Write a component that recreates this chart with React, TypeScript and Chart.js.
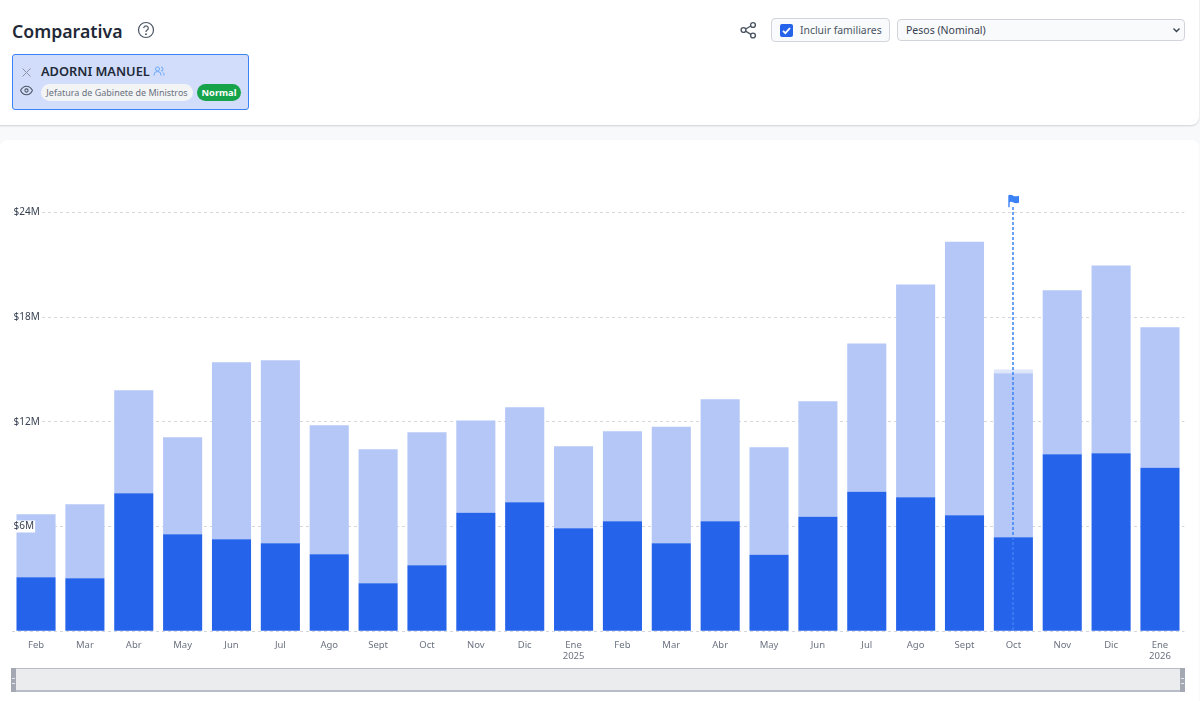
import { useEffect, useRef } from "react";
import { Chart, registerables } from "chart.js";

Chart.register(...registerables);

const months = ["Feb", "Mar", "Abr", "May", "Jun", "Jul", "Ago", "Sept", "Oct", "Nov", "Dic", ["Ene", "2025"], "Feb", "Mar", "Abr", "May", "Jun", "Jul", "Ago", "Sept", "Oct", "Nov", "Dic", ["Ene", "2026"]];
// millones de pesos
const titular = [3.09, 3.04, 7.9, 5.56, 5.27, 5.04, 4.41, 2.75, 3.78, 6.79, 7.39, 5.9, 6.3, 5.04, 6.3, 4.38, 6.56, 7.99, 7.67, 6.64, 5.38, 10.14, 10.2, 9.36];
const familiares = [3.61, 4.23, 5.9, 5.55, 10.14, 10.48, 7.39, 7.67, 7.62, 5.29, 5.44, 4.7, 5.16, 6.67, 6.99, 6.16, 6.61, 8.5, 12.2, 15.67, 9.4, 9.39, 10.76, 8.05];
const otros = [0, 0, 0, 0, 0, 0, 0, 0, 0, 0, 0, 0, 0, 0, 0, 0, 0, 0, 0, 0, 0.22, 0, 0, 0];
const yTicks = [0, 6, 12, 18, 24];
const flagIndex = 20;

const flagPlugin = {
  id: "flagMark",
  afterDatasetsDraw(chart: any) {
    const { ctx, scales } = chart;
    const x = Math.round(scales.x.getPixelForValue(flagIndex));
    ctx.save();
    ctx.strokeStyle = "#3b82f6";
    ctx.lineWidth = 1.5;
    ctx.setLineDash([3, 2]);
    ctx.beginPath();
    ctx.moveTo(x, scales.y.getPixelForValue(24.3));
    ctx.lineTo(x, scales.y.bottom);
    ctx.stroke();
    // banderita
    const top = scales.y.getPixelForValue(24) - 17;
    ctx.setLineDash([]);
    ctx.lineWidth = 1.4;
    ctx.beginPath();
    ctx.moveTo(x - 4, top);
    ctx.lineTo(x - 4, top + 12);
    ctx.stroke();
    ctx.fillStyle = "#3b82f6";
    ctx.beginPath();
    ctx.moveTo(x - 4, top - 0.5);
    ctx.quadraticCurveTo(x, top - 0.5, x, top + 0.5);
    ctx.quadraticCurveTo(x + 2, top + 1.5, x + 6, top + 0.5);
    ctx.lineTo(x + 6, top + 7.5);
    ctx.quadraticCurveTo(x + 2, top + 8.5, x, top + 7);
    ctx.quadraticCurveTo(x - 2, top + 6, x - 4, top + 7);
    ctx.closePath();
    ctx.fill();
    ctx.restore();
  },
};

function BarChart() {
  const canvasRef = useRef<HTMLCanvasElement>(null);

  useEffect(() => {
    if (!canvasRef.current) return;
    const chart = new Chart(canvasRef.current, {
      type: "bar",
      data: {
        labels: months as any,
        datasets: [
          { label: "Titular", data: titular, backgroundColor: "#2563eb", stack: "a" },
          { label: "Familiares", data: familiares, backgroundColor: "#b4c7f7", stack: "a" },
          { label: "Otros", data: otros, backgroundColor: "#dde6fb", stack: "a" },
        ],
      },
      options: {
        responsive: false,
        animation: false,
        layout: { padding: { left: 11.6, right: 15.6, top: 20, bottom: 0 } },
        plugins: { legend: { display: false }, tooltip: { enabled: false } },
        datasets: { bar: { categoryPercentage: 0.8, barPercentage: 1 } },
        scales: {
          x: {
            stacked: true,
            grid: { display: false },
            border: { display: false },
            ticks: {
              color: "#6b7280",
              font: { family: "Noto Sans", size: 9.5 },
              maxRotation: 0,
              autoSkip: false,
              padding: 0,
            },
          },
          y: {
            stacked: true,
            min: 0,
            max: 27,
            afterBuildTicks(axis: any) {
              axis.ticks = yTicks.map((value) => ({ value }));
            },
            afterFit(axis: any) {
              axis.width = 0;
            },
            grid: { color: "#d4d6da", drawTicks: false },
            border: { display: false, dash: [3, 3] },
            ticks: {
              mirror: true,
              z: 1,
              padding: 2,
              color: "#374151",
              font: { family: "Noto Sans", size: 10 },
              showLabelBackdrop: (c: any) => c.tick.value !== 0,
              backdropColor: "#ffffff",
              backdropPadding: { left: 1, right: 1, top: 0, bottom: 0 },
              callback: (v: any) => (v === 0 ? "" : "$" + v + "M"),
            },
          },
        },
      } as any,
      plugins: [flagPlugin],
    });
    return () => chart.destroy();
  }, []);

  return (
    <canvas
      ref={canvasRef}
      width={1200}
      height={522}
      style={{ position: "absolute", left: 0, top: 140, display: "block" }}
    />
  );
}

const font = "'Noto Sans', sans-serif";

export default function App() {
  useEffect(() => {
    document.body.style.margin = "0";
    document.body.style.background = "#f8f9fb";
  }, []);

  return (
    <div style={{ position: "relative", width: 1200, height: 701, overflow: "hidden", fontFamily: font }}>
      {/* cabecera */}
      <div style={{ position: "absolute", left: -10, top: -10, width: 1209, height: 135, background: "#fff", borderRadius: 8, boxShadow: "0 1px 2px rgba(0,0,0,0.16)" }} />
      <div style={{ position: "absolute", left: 12, top: 17, fontSize: 17.7, fontWeight: 600, color: "#1f2937", lineHeight: "28px" }}>Comparativa</div>
      <svg style={{ position: "absolute", left: 137, top: 21 }} width="18" height="18" viewBox="0 0 24 24" fill="none" stroke="#4b5563" strokeWidth="1.6">
        <circle cx="12" cy="12" r="10" />
        <path d="M9 9.5a3 3 0 1 1 4.5 2.6c-1 .6-1.5 1.2-1.5 2.4" />
        <circle cx="12" cy="17.5" r="0.5" />
      </svg>

      <div style={{ position: "absolute", left: 12, top: 54, width: 235, height: 54, background: "#d1ddfa", border: "1px solid #3b82f6", borderRadius: 3 }} />
      <svg style={{ position: "absolute", left: 22, top: 68 }} width="9" height="9" viewBox="0 0 9 9" stroke="#8b93a3" strokeWidth="1">
        <path d="M0.5 0.5l8 8M8.5 0.5l-8 8" />
      </svg>
      <div style={{ position: "absolute", left: 41, top: 62, fontSize: 12.8, fontWeight: 600, color: "#1f2937", lineHeight: "18px", whiteSpace: "nowrap" }}>ADORNI MANUEL</div>
      <svg style={{ position: "absolute", left: 153, top: 65 }} width="12" height="12" viewBox="0 0 24 24" fill="none" stroke="#60a5fa" strokeWidth="1.8">
        <circle cx="9" cy="8" r="4" />
        <path d="M2 21v-1a7 7 0 0 1 14 0v1M16 4a4 4 0 0 1 0 8M19 14a6 6 0 0 1 3 6v1" />
      </svg>
      <svg style={{ position: "absolute", left: 20, top: 85 }} width="13" height="11" viewBox="0 0 24 20" fill="none" stroke="#4b5563" strokeWidth="1.9">
        <path d="M1 10s4-8 11-8 11 8 11 8-4 8-11 8-11-8-11-8z" />
        <circle cx="12" cy="10" r="3" />
      </svg>
      <div style={{ position: "absolute", left: 41, top: 84, width: 152, height: 17, background: "#f3f4f6", borderRadius: 9, fontSize: 9, color: "#6b7280", lineHeight: "17px", textAlign: "center", whiteSpace: "nowrap" }}>Jefatura de Gabinete de Ministros</div>
      <div style={{ position: "absolute", left: 197, top: 84, width: 44, height: 17, background: "#16a34a", borderRadius: 9, fontSize: 9.3, fontWeight: 700, color: "#fff", lineHeight: "17px", textAlign: "center" }}>Normal</div>

      <svg style={{ position: "absolute", left: 740, top: 21 }} width="17" height="18" viewBox="0 0 17 18" fill="none" stroke="#4b5563" strokeWidth="1.4">
        <circle cx="13" cy="4" r="2.4" />
        <circle cx="3.5" cy="9" r="2.4" />
        <circle cx="13" cy="14.5" r="2.4" />
        <path d="M5.6 8l5.3-3M5.6 10.2l5.3 3.1" />
      </svg>
      <div style={{ position: "absolute", left: 771, top: 18, width: 117, height: 22, background: "#f9fafb", border: "1px solid #d1d5db", borderRadius: 4 }} />
      <div style={{ position: "absolute", left: 780, top: 24, width: 13, height: 13, background: "#2563eb", borderRadius: 2 }}>
        <svg style={{ display: "block" }} width="13" height="13" viewBox="0 0 13 13" fill="none" stroke="#fff" strokeWidth="1.8">
          <path d="M3 6.8l2.4 2.4L10 4" />
        </svg>
      </div>
      <div style={{ position: "absolute", left: 800, top: 22, fontSize: 10.4, color: "#4b5563", lineHeight: "17px", whiteSpace: "nowrap" }}>Incluir familiares</div>
      <div style={{ position: "absolute", left: 897, top: 19, width: 286, height: 20, background: "#f9fafb", border: "1px solid #d1d5db", borderRadius: 4 }} />
      <div style={{ position: "absolute", left: 906, top: 22, fontSize: 10.5, color: "#374151", lineHeight: "17px", whiteSpace: "nowrap" }}>Pesos (Nominal)</div>
      <svg style={{ position: "absolute", left: 1172, top: 27 }} width="9" height="7" viewBox="0 0 9 7" fill="none" stroke="#374151" strokeWidth="1.4">
        <path d="M1.5 1.5l3 3 3-3" />
      </svg>

      {/* tarjeta del grafico */}
      <div style={{ position: "absolute", left: 0, top: 140, width: 1199, height: 570, background: "#fff", borderRadius: 8 }} />
      <BarChart />

      {/* selector de rango */}
      <div style={{ position: "absolute", left: 11, top: 668, width: 1174, height: 24, boxSizing: "border-box", background: "#ebecee", border: "1px solid #b8bcc6", borderBottomWidth: 2 }} />
      <div style={{ position: "absolute", left: 11, top: 668, width: 5, height: 24, background: "#a3a8b3" }} />
      <div style={{ position: "absolute", left: 1180, top: 668, width: 5, height: 24, background: "#a3a8b3" }} />
      <div style={{ position: "absolute", left: 12, top: 678, width: 3, height: 4, borderTop: "1px solid #e5e7eb", borderBottom: "1px solid #e5e7eb" }} />
      <div style={{ position: "absolute", left: 1181, top: 678, width: 3, height: 4, borderTop: "1px solid #e5e7eb", borderBottom: "1px solid #e5e7eb" }} />
    </div>
  );
}
